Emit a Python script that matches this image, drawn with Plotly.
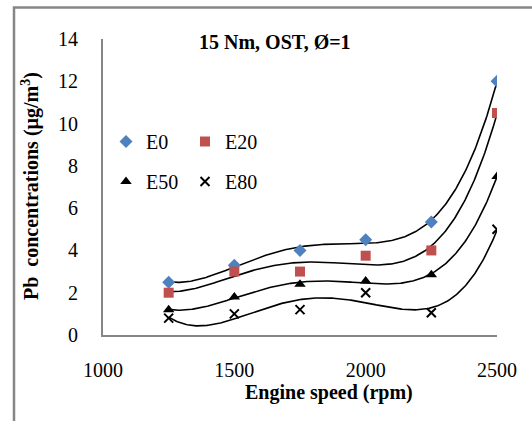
import numpy as np
import plotly.graph_objects as go

# Engine speed (rpm) and Pb concentrations (µg/m³) per fuel blend
speed = [1250, 1500, 1750, 2000, 2250, 2500]
e0 = [2.5, 3.3, 4.0, 4.5, 5.35, 12.0]
e20 = [2.0, 3.0, 3.0, 3.75, 4.0, 10.5]
e50 = [1.2, 1.8, 2.4, 2.55, 2.85, 7.5]
e80 = [0.8, 1.0, 1.2, 2.0, 1.05, 5.0]

series = [
    ("E0", e0, dict(symbol="diamond", size=10, color="#4F81BD"), "legend"),
    ("E20", e20, dict(symbol="square", size=10, color="#C0504D"), "legend"),
    ("E50", e50, dict(symbol="triangle-up", size=10, color="#000000"), "legend2"),
    ("E80", e80, dict(symbol="x-thin", size=9, color="#000000",
                      line=dict(width=2, color="#000000")), "legend2"),
]

FONT = "Liberation Serif, Times New Roman, serif"

fig = go.Figure()

# 4th-order polynomial trendlines
xs = np.linspace(speed[0], speed[-1], 300)
for name, vals, mk, lg in series:
    coef = np.polyfit(speed, vals, 4)
    fig.add_trace(go.Scatter(x=xs, y=np.polyval(coef, xs), mode="lines",
                             line=dict(color="black", width=1.6),
                             showlegend=False, hoverinfo="skip"))

for name, vals, mk, lg in series:
    fig.add_trace(go.Scatter(x=speed, y=vals, mode="markers", name=name,
                             marker=mk, legend=lg))

# plot area in pixels: left 103, right 497, top 39, bottom 335
L, R, T, B = 103, 497, 39, 335
W, H = R - L, B - T


def px(x):
    return (x - L) / W


def py(y):
    return (B - y) / H


leg_common = dict(orientation="h", xanchor="left", yanchor="top",
                  font=dict(family=FONT, size=20, color="black"),
                  bgcolor="rgba(0,0,0,0)", entrywidth=34,
                  entrywidthmode="pixels", tracegroupgap=0, itemwidth=30)

fig.update_layout(
    width=532, height=421,
    margin=dict(l=L, r=532 - R, t=T, b=421 - B),
    paper_bgcolor="white", plot_bgcolor="white",
    font=dict(family=FONT, size=20, color="black"),
    legend=dict(x=px(106), y=py(122), **leg_common),
    legend2=dict(x=px(106), y=py(162), **leg_common),
    xaxis=dict(range=[1000, 2500], tick0=1000, dtick=500, showgrid=False,
               zeroline=False, showline=True, linecolor="#868686", linewidth=2,
               ticks="outside", ticklen=16, tickcolor="rgba(0,0,0,0)",
               tickfont=dict(family=FONT, size=20, color="black")),
    yaxis=dict(range=[0, 14], tick0=0, dtick=2, showgrid=False,
               zeroline=False, showline=True, linecolor="#868686", linewidth=2,
               ticks="outside", ticklen=19, tickcolor="rgba(0,0,0,0)",
               tickfont=dict(family=FONT, size=20, color="black")),
    shapes=[dict(type="rect", xref="paper", yref="paper",
                 x0=px(14), x1=px(545), y0=py(440), y1=py(7.5),
                 line=dict(color="#868686", width=2.5), layer="below")],
    annotations=[
        dict(text="<b>15 Nm, OST, Ø=1</b>", xref="paper", yref="paper",
             x=px(275), y=py(42), xanchor="center", yanchor="middle",
             showarrow=False, font=dict(family=FONT, size=20, color="black")),
        dict(text="<b>Engine speed (rpm)</b>", xref="paper", yref="paper",
             x=px(329), y=py(392), xanchor="center", yanchor="middle",
             showarrow=False, font=dict(family=FONT, size=20, color="black")),
        dict(text="<b>Pb  concentrations (µg/m<sup>3</sup>)</b>",
             xref="paper", yref="paper", x=px(30), y=py(186),
             xanchor="center", yanchor="middle", textangle=-90,
             showarrow=False, font=dict(family=FONT, size=20, color="black")),
    ],
)

fig.write_html("out.html")
